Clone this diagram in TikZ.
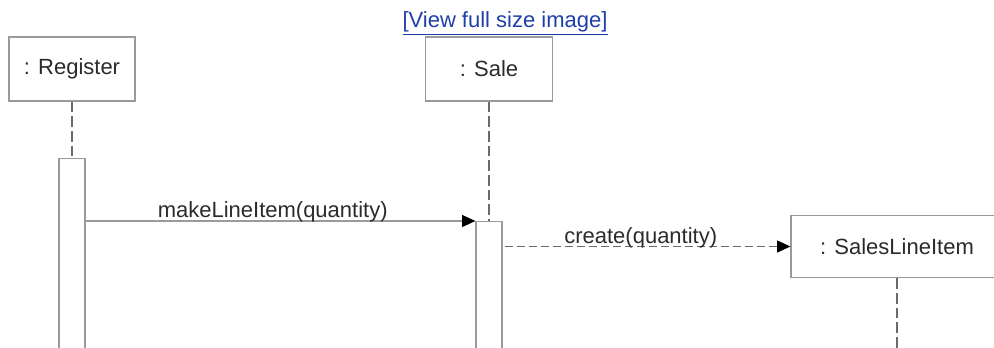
\documentclass[tikz,border=0pt]{standalone}
\usepackage{fontspec}
\setmainfont{Liberation Sans}
\usepackage{xcolor}
\usepackage{tikz}
\usetikzlibrary{arrows.meta,positioning,calc}
\definecolor{seqline}{HTML}{9A9A9A}
\definecolor{seqdash}{HTML}{6A6A6A}
\definecolor{seqtext}{HTML}{2B2B2B}
\definecolor{seqlink}{HTML}{1F3FA8}
\tikzstyle{object} = [rectangle, draw=seqline, line width=0.9pt, fill=white,
    text=seqtext, minimum height=48pt, inner sep=0pt, font=\fontsize{16.5}{19}\selectfont]
\tikzstyle{activation} = [rectangle, draw=seqline, line width=0.9pt, fill=white,
    minimum width=19.5pt, minimum height=150pt, anchor=north, inner sep=0pt]
\tikzstyle{lifeline} = [seqdash, line width=1pt, dash pattern=on 8pt off 3pt]
\tikzstyle{arrow} = [-{Triangle[length=10pt,width=9pt,black]}, seqline, line width=0.8pt]
\tikzstyle{msglabel} = [above, inner sep=0pt, pos=0.48, yshift=-1.5pt, text=seqtext, font=\fontsize{16.5}{19}\selectfont]

\begin{document}
\begin{tikzpicture}[x=0.75pt, y=-0.75pt]
\useasboundingbox (0,0) rectangle (994,347);

\node[text=seqlink, font=\fontsize{16.5}{19}\selectfont] (viewlink) at (505,23) {\underline{[View full size image]}};

% objects
\node[object, minimum width=94.5pt] (register) at (72,69) {: Register};
\node[object, minimum width=95pt] (sale) at (489,69) {: Sale};
\node[object, minimum width=159pt, minimum height=47pt] (lineitem) at (897,246.5) {: SalesLineItem};

% activations
\node[activation] (regact) at (72,158) {};
\node[activation] (saleact) at (489,221) {};
\coordinate (lineitemend) at (897,350);

\draw[lifeline] (register.south) -- (regact.north);
\draw[lifeline] (sale.south) -- (saleact.north);
\draw[lifeline] (lineitem.south) -- (lineitemend);

% messages
\draw[arrow] (regact.east |- saleact.north) -- node[msglabel] {makeLineItem(quantity)} (saleact.north west);
\draw[arrow, seqdash, line width=0.9pt, dash pattern=on 6pt off 3pt, shorten <=2pt] (saleact.east |- lineitem.west) -- node[msglabel] {create(quantity)} (lineitem.west);
\end{tikzpicture}
\end{document}
